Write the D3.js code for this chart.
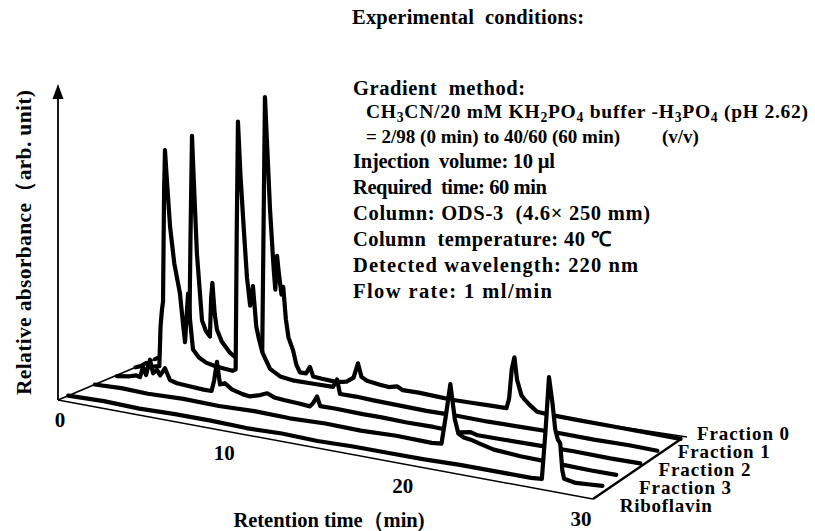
<!DOCTYPE html>
<html>
<head>
<meta charset="utf-8">
<script src="https://cdn.jsdelivr.net/npm/d3@7"></script>
<style>
  body { margin: 0; background: #fff; }
  svg text { font-family: "Liberation Serif", "Times New Roman", serif; font-weight: bold; fill: #000; white-space: pre; }
</style>
</head>
<body>
<svg id="chart" width="815" height="531"></svg>
<script>
// chromatograms: [retention time (min), relative absorbance (arb.)]
const traceNames = ['Fraction 0', 'Fraction 1', 'Fraction 2', 'Fraction 3', 'Riboflavin'];

const fraction0 = [
  [0, 0], [0.3, 3], [0.5, 6], [0.7, 2], [1.0, 3], [1.3, 1], [1.6, 4], [1.85, 3],
  [1.94, 4], [2.02, 120], [2.11, 229], [2.2, 190], [2.39, 112], [2.68, 46], [2.9, 36], [3.13, 31],
  [3.2, 70], [3.27, 85], [3.4, 55], [3.53, 39], [3.8, 28], [4.27, 18], [4.5, 15],
  [5.0, 14], [5.6, 13], [6.1, 14],
  [6.17, 130], [6.26, 279], [6.4, 225], [6.55, 167], [6.75, 110], [6.85, 88], [6.95, 122], [7.05, 105],
  [7.2, 84], [7.3, 92], [7.45, 60], [7.6, 42], [7.86, 30], [8.05, 16], [8.25, 9],
  [8.6, 9], [8.82, 16], [9.0, 7], [9.5, 6], [10.36, 5], [10.9, 7], [11.3, 12], [11.55, 27], [11.75, 14],
  [12.06, 11], [12.8, 9], [13.3, 8], [13.77, 10], [14.1, 7], [15, 7], [16, 6], [16.9, 5], [18, 5], [19, 5],
  [20.0, 5], [20.15, 15], [20.3, 45], [20.45, 57], [20.6, 35], [20.85, 20], [21.0, 17], [21.3, 12], [21.74, 6],
  [22.5, 5], [24, 4], [26, 3], [28, 2], [29.9, 1]
];

const fraction1 = [
  [0, 0], [0.3, 2], [0.6, 6], [0.8, 3], [1.1, 4], [1.35, 5], [1.42, 45], [1.5, 62], [1.56, 70],
  [1.62, 180], [1.67, 222], [1.75, 200], [1.96, 146], [2.2, 110], [2.52, 81], [2.7, 50], [2.81, 33],
  [2.9, 60], [2.98, 82], [3.1, 55], [3.26, 27], [3.6, 20], [4.0, 16], [4.5, 14], [5.0, 13], [5.5, 12], [5.68, 14],
  [5.74, 150], [5.81, 262], [5.95, 210], [6.15, 153], [6.32, 108], [6.5, 80], [6.66, 100], [6.85, 60],
  [7.0, 48], [7.2, 35], [7.63, 20], [8.2, 14], [9, 12], [10, 12], [11.2, 12], [11.43, 20], [11.6, 6],
  [12.5, 6], [13.5, 5], [15, 4], [16.5, 3], [18, 3], [20, 2], [22, 2], [24, 2], [26, 1], [28, 1], [29.6, 0]
];

const fraction2 = [
  [0.1, 0], [0.8, 2], [1.2, 4], [1.41, 3], [1.58, 14], [1.75, 6], [1.97, 22], [2.15, 9], [2.37, 13],
  [2.55, 8], [2.82, 16], [3.1, 5], [3.5, 3], [4.2, 2], [5.0, 1], [5.45, 1], [5.6, 12], [5.76, 31], [5.93, 9],
  [6.2, 11], [6.6, 6], [7.2, 3], [7.63, 2], [8.2, 5], [8.6, 8], [9.0, 5], [9.6, 4], [10.4, 3], [11.02, 2],
  [11.2, 6], [11.42, 13], [11.6, 4], [12.5, 4], [14, 3], [15, 3], [16.5, 2], [18, 2], [19.5, 1], [20.1, 3],
  [20.5, 1], [22, 1], [24, 1], [26, 1], [28, 0], [29.7, 0]
];

const fraction3 = [
  [0, 0], [1.5, 1], [3, 0], [5, 1], [7, 0], [9, 1], [11, 0], [13, 1], [15, 0], [17, 1], [19, 0],
  [19.55, 1], [19.8, 30], [20.05, 62], [20.3, 28], [20.5, 14], [20.8, 11], [21.2, 10], [21.6, 8],
  [22.5, 4], [24, 2], [26, 1], [28, 0], [29.4, 0]
];

const riboflavin = [
  [0, 0], [2, 1], [4, 0], [6, 1], [8, 1], [10, 0], [12, 1], [14, 0], [16, 1], [18, 1], [20, 1], [22, 2],
  [24, 2], [26, 2], [26.6, 3], [26.8, 50], [27.0, 106], [27.2, 80], [27.35, 55], [27.5, 45], [27.63, 42],
  [27.75, 15], [27.85, 7], [28.5, 5], [29.3, 6], [30, 7]
];

const seriesValues = [fraction0, fraction1, fraction2, fraction3, riboflavin];
const timeTicks = [0, 10, 20, 30];

// layout: depth of each trace on the floor (0 = front edge, 1 = back edge)
const depths = [0.95, 0.76, 0.56, 0.36, 0.1];

const svg = d3.select('#chart');

const xFront = d3.scaleLinear().domain([0, 30]).range([58, 593]);
const yFront = d3.scaleLinear().domain([0, 30]).range([400, 499]);
const xBack = d3.scaleLinear().domain([0, 30]).range([160, 687]);
const yBack = d3.scaleLinear().domain([0, 30]).range([357, 437]);
const hScale = d3.scaleLinear().domain([0, 300]).range([0, 300]);

function project(t, d, h) {
  const x = xFront(t) * (1 - d) + xBack(t) * d;
  const y = yFront(t) * (1 - d) + yBack(t) * d - hScale(h);
  return [x, y];
}

const thin = 1.5;

// back edge of the floor
svg.append('line')
  .attr('x1', xBack(0)).attr('y1', yBack(0))
  .attr('x2', xBack(30)).attr('y2', yBack(30))
  .attr('stroke', '#000').attr('stroke-width', thin);

// traces, back to front, each hiding what lies behind it
const line = d3.line().x(p => p[0]).y(p => p[1]);

seriesValues.forEach((vals, i) => {
  const d = depths[i];
  const pts = vals.map(v => project(v[0], d, v[1]));
  const fillPts = pts.concat([[pts[pts.length - 1][0], 531], [pts[0][0], 531]]);
  const g = svg.append('g').attr('class', 'trace');
  g.append('path')
    .attr('d', line(fillPts) + 'Z')
    .attr('fill', '#fff')
    .attr('stroke', 'none');
  g.append('path')
    .attr('d', line(pts))
    .attr('fill', 'none')
    .attr('stroke', '#000')
    .attr('stroke-width', 4.2)
    .attr('stroke-linejoin', 'round')
    .attr('stroke-linecap', 'round');
});

// floor edges
svg.append('line')
  .attr('x1', xFront(0)).attr('y1', yFront(0))
  .attr('x2', xFront(30)).attr('y2', yFront(30))
  .attr('stroke', '#000').attr('stroke-width', thin);
svg.append('line')
  .attr('x1', xFront(0)).attr('y1', yFront(0))
  .attr('x2', xBack(0)).attr('y2', yBack(0))
  .attr('stroke', '#000').attr('stroke-width', thin);
svg.append('line')
  .attr('x1', xFront(30)).attr('y1', yFront(30))
  .attr('x2', xBack(30) - 6).attr('y2', yBack(30) + 2)
  .attr('stroke', '#000').attr('stroke-width', 2.4);

// vertical axis with arrow
svg.append('line')
  .attr('x1', 58).attr('y1', 400).attr('x2', 58).attr('y2', 96)
  .attr('stroke', '#000').attr('stroke-width', 1.8);
svg.append('path')
  .attr('d', 'M58,84 L52.5,99 L63.5,99 Z')
  .attr('fill', '#000');

// time tick labels along the front edge
svg.selectAll('.tick-label')
  .data(timeTicks)
  .join('text')
  .attr('class', 'tick-label')
  .attr('x', t => xFront(t) - (t === 0 ? -2 : 12))
  .attr('y', t => yFront(t) + 27)
  .attr('text-anchor', 'middle')
  .attr('font-size', 21)
  .text(t => t);

svg.append('text')
  .attr('x', 329).attr('y', 527)
  .attr('text-anchor', 'middle')
  .attr('font-size', 20.5)
  .text('Retention time（min)');

svg.append('text')
  .attr('transform', 'translate(31,395) rotate(-90)')
  .attr('font-size', 21.5)
  .attr('textLength', 305)
  .attr('lengthAdjust', 'spacing')
  .text('Relative absorbance（arb. unit)');

// trace labels
svg.selectAll('.trace-label')
  .data(traceNames)
  .join('text')
  .attr('class', 'trace-label')
  .attr('x', (d, i) => 697 - i * 19.3)
  .attr('y', (d, i) => 440 + i * 18)
  .attr('font-size', 19)
  .attr('textLength', 92)
  .attr('lengthAdjust', 'spacing')
  .text(d => d);

// experimental conditions
const conditionLines = [
  { x: 352, y: 24, size: 20.5, w: 232, parts: [['Experimental  conditions:']] },
  { x: 353, y: 95, size: 20.5, w: 172, parts: [['Gradient  method:']] },
  { x: 366, y: 118, size: 19.5, w: 442, parts: [['CH'], ['3', 1], ['CN/20 mM KH'], ['2', 1], ['PO'], ['4', 1],
      [' buffer -H'], ['3', 1], ['PO'], ['4', 1], [' (pH 2.62)']] },
  { x: 366, y: 143, size: 19, w: 0, parts: [['= 2/98 (0 min) to 40/60 (60 min)']] },
  { x: 662, y: 143, size: 19, w: 0, parts: [['(v/v)']] },
  { x: 353, y: 168, size: 20.5, w: 202, parts: [['Injection  volume: 10 µl']] },
  { x: 353, y: 194, size: 20.5, w: 194, parts: [['Required  time: 60 min']] },
  { x: 353, y: 220, size: 20.5, w: 297, parts: [['Column: ODS-3  (4.6× 250 mm)']] },
  { x: 353, y: 246, size: 20.5, w: 258, parts: [['Column  temperature: 40 ℃']] },
  { x: 353, y: 272, size: 20.5, w: 285, parts: [['Detected wavelength: 220 nm']] },
  { x: 353, y: 298, size: 20.5, w: 199, parts: [['Flow rate: 1 ml/min']] }
];

conditionLines.forEach(c => {
  const txt = svg.append('text')
    .attr('x', c.x).attr('y', c.y)
    .attr('font-size', c.size);
  if (c.w) txt.attr('textLength', c.w).attr('lengthAdjust', 'spacing');
  let shifted = false;
  c.parts.forEach(([s, sub]) => {
    const ts = txt.append('tspan').text(s);
    if (sub) {
      ts.attr('font-size', c.size * 0.7).attr('dy', shifted ? 0 : 4);
      shifted = true;
    } else if (shifted) {
      ts.attr('dy', -4);
      shifted = false;
    }
  });
});
</script>
</body>
</html>
